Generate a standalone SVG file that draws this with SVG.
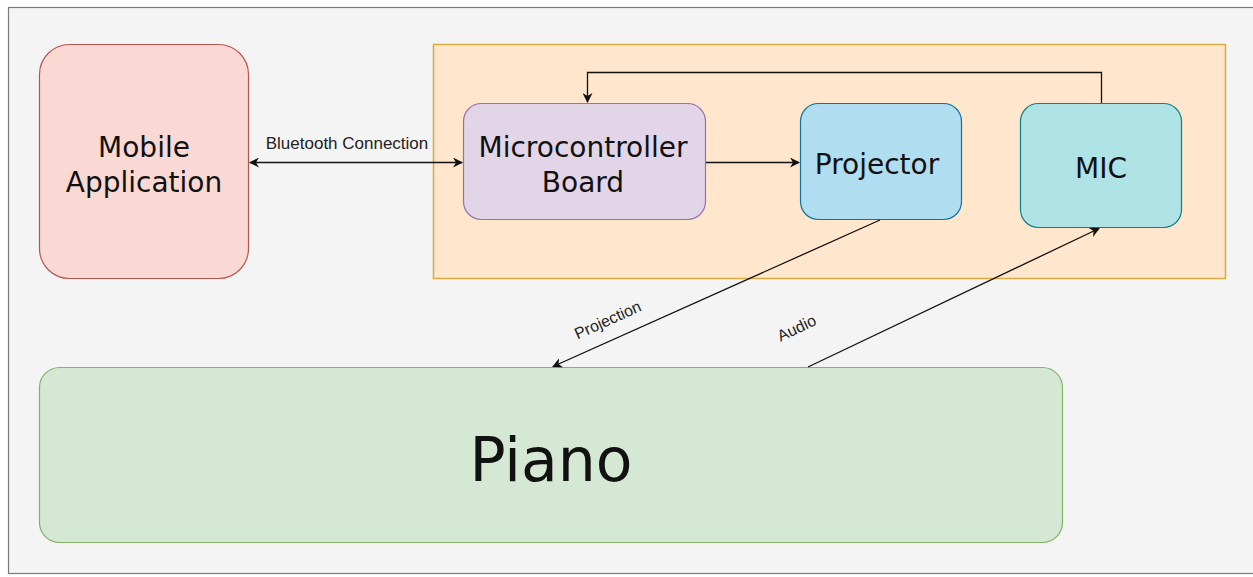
<svg xmlns="http://www.w3.org/2000/svg" width="1253" height="577" viewBox="0 0 1253 577">
  <style>
    .node { stroke-width: 1.2; }
    .lbl { font-family: "DejaVu Sans", Verdana, sans-serif; font-size: 28px; fill: #111; text-anchor: middle; }
    .elbl { font-family: "Liberation Sans", Arial, sans-serif; font-size: 17px; fill: #222; text-anchor: middle; }
    .edge { fill: none; stroke: #111; stroke-width: 1.3; }
  </style>
  <defs>
    <marker id="arrow" viewBox="0 0 10 10" refX="9" refY="5" markerWidth="10" markerHeight="10" markerUnits="userSpaceOnUse" orient="auto-start-reverse">
      <path d="M0,0 L10,5 L0,10 L3,5 z" fill="#111"/>
    </marker>
  </defs>

  <!-- canvas -->
  <rect x="0" y="0" width="1253" height="577" fill="#ffffff"/>
  <rect x="8.5" y="7.5" width="1260" height="566" fill="#f4f4f4" stroke="#7a7a7a" stroke-width="1.2"/>

  <!-- device housing -->
  <g id="device">
    <rect x="433.5" y="44.5" width="792" height="234" fill="#ffe6cc" stroke="#d8ac3e" stroke-width="1.5"/>
  </g>

  <g id="mobile-app">
    <rect class="node" x="39.5" y="44.5" width="209" height="234" rx="30" fill="#fad9d5" stroke="#b85450"/>
    <text class="lbl" x="144" y="157">Mobile</text>
    <text class="lbl" x="144" y="192">Application</text>
  </g>

  <g id="microcontroller">
    <rect class="node" x="463.5" y="103.5" width="242" height="116" rx="18" fill="#e1d5e7" stroke="#9673a6"/>
    <text class="lbl" x="583" y="157">Microcontroller</text>
    <text class="lbl" x="583" y="192">Board</text>
  </g>

  <g id="projector">
    <rect class="node" x="800.5" y="103.5" width="161" height="116" rx="18" fill="#b1ddf0" stroke="#10739e"/>
    <text class="lbl" x="877" y="174">Projector</text>
  </g>

  <g id="mic">
    <rect class="node" x="1020.5" y="103.5" width="161" height="124" rx="18" fill="#b0e3e6" stroke="#0e8088"/>
    <text class="lbl" x="1101" y="178">MIC</text>
  </g>

  <g id="piano">
    <rect class="node" x="39.5" y="367.5" width="1023" height="175" rx="20" fill="#d5e8d4" stroke="#82b366"/>
    <text class="lbl" x="551" y="481" style="font-size:60px">Piano</text>
  </g>

  <g id="connectors">
    <path class="edge" d="M250,162.5 H462" marker-start="url(#arrow)" marker-end="url(#arrow)"/>
    <text class="elbl" x="347" y="149">Bluetooth Connection</text>

    <path class="edge" d="M706,162.5 H799" marker-end="url(#arrow)"/>

    <path class="edge" d="M1101.5,103 V72.5 H587.5 V102" marker-end="url(#arrow)"/>

    <path class="edge" d="M880,220 L553,366.5" marker-end="url(#arrow)"/>
    <text class="elbl" x="0" y="0" style="font-size:16px" transform="translate(610,325) rotate(-24.1)">Projection</text>

    <path class="edge" d="M808,367 L1099,228.5" marker-end="url(#arrow)"/>
    <text class="elbl" x="0" y="0" style="font-size:16px" transform="translate(799,333) rotate(-25.5)">Audio</text>
  </g>
</svg>
